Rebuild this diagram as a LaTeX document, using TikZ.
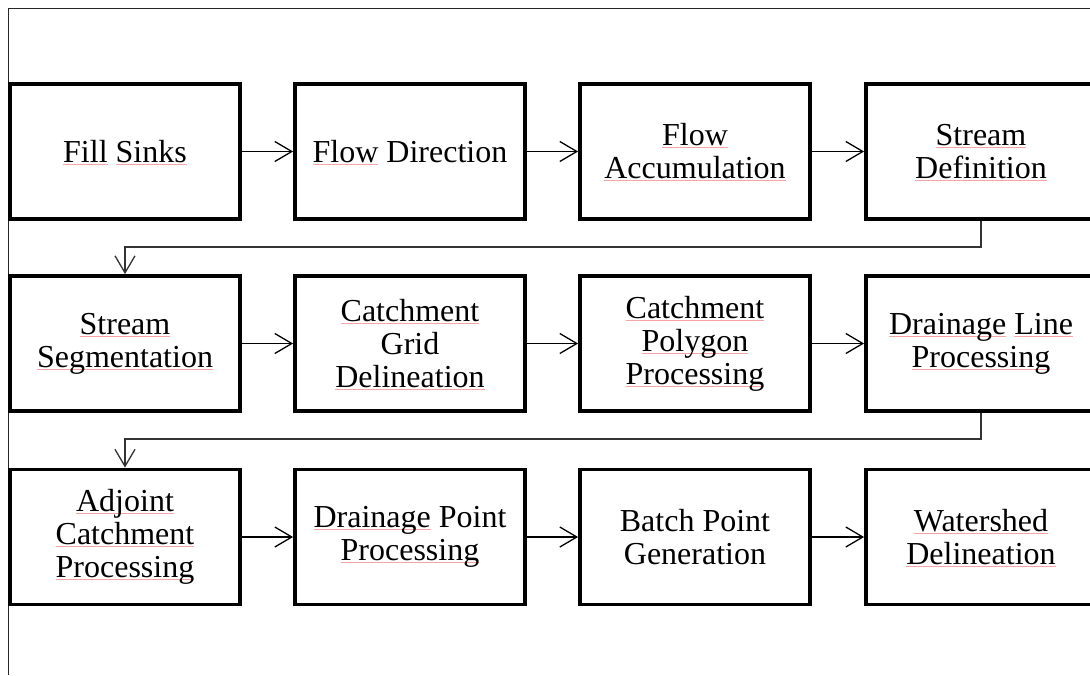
\documentclass[tikz,border=0pt]{standalone}
\usepackage{fontspec}
\setmainfont{Liberation Serif}
\usetikzlibrary{arrows.meta}
\definecolor{uline}{RGB}{244,165,165}
\newsavebox\sqbox
\newlength\sqlen
\newcommand\sq[1]{\leavevmode\sbox\sqbox{#1}\setlength\sqlen{\wd\sqbox}\rlap{\tikz[baseline=0pt]{\useasboundingbox (0pt,0pt); \fill[uline] (0pt,-2.2pt) rectangle (\sqlen,-1.4pt);}}\usebox\sqbox}
\tikzset{
  x=1pt, y=1pt,
  stepbox/.style={draw=black, line width=3.8pt, rectangle, minimum width=230pt, minimum height=135pt,
    align=center, inner sep=4pt, font=\fontsize{32}{33}\selectfont},
  arr/.style={line width=1.3pt, -{Straight Barb[length=17pt,width=20pt,line width=1.3pt]}},
  frame/.style={line width=1.6pt, draw=black!85}
}
\begin{document}
\begin{tikzpicture}
\useasboundingbox (0,0) rectangle (1090,-675);
\draw[frame] (8.5,-675) -- (8.5,-8.5) -- (1090,-8.5);
% row 1
\node[stepbox] (a1) at (125,-151.5) {\sq{Fill} \sq{Sinks}};
\node[stepbox] (a2) at (410,-151.5) {\sq{Flow} Direction};
\node[stepbox] (a3) at (695,-151.5) {\sq{Flow}\\\sq{Accumulation}};
\node[stepbox] (a4) at (981,-151.5) {\sq{Stream}\\\sq{Definition}};
% row 2
\node[stepbox] (b1) at (125,-343.5) {\sq{Stream}\\\sq{Segmentation}};
\node[stepbox] (b2) at (410,-343.5) {\sq{Catchment}\\Grid\\\sq{Delineation}};
\node[stepbox] (b3) at (695,-343.5) {\sq{Catchment}\\\sq{Polygon}\\\sq{Processing}};
\node[stepbox] (b4) at (981,-343.5) {\sq{Drainage} \sq{Line}\\\sq{Processing}};
% row 3
\node[stepbox] (c1) at (125,-537) {\sq{Adjoint}\\\sq{Catchment}\\\sq{Processing}};
\node[stepbox] (c2) at (410,-537) {\sq{Drainage} Point\\\sq{Processing}};
\node[stepbox] (c3) at (695,-537) {Batch Point\\Generation};
\node[stepbox] (c4) at (981,-537) {\sq{Watershed}\\\sq{Delineation}};
% arrows
\draw[arr] (a1.east) -- (a2.west);
\draw[arr] (a2.east) -- (a3.west);
\draw[arr] (a3.east) -- (a4.west);
\draw[arr] (b1.east) -- (b2.west);
\draw[arr] (b2.east) -- (b3.west);
\draw[arr] (b3.east) -- (b4.west);
\draw[arr] (c1.east) -- (c2.west);
\draw[arr] (c2.east) -- (c3.west);
\draw[arr] (c3.east) -- (c4.west);
\draw[arr, draw=black!80] (a4.south) -- ++(0,-26) -| (b1.north);
\draw[arr, draw=black!80] (b4.south) -- ++(0,-26) -| (c1.north);
\end{tikzpicture}
\end{document}
